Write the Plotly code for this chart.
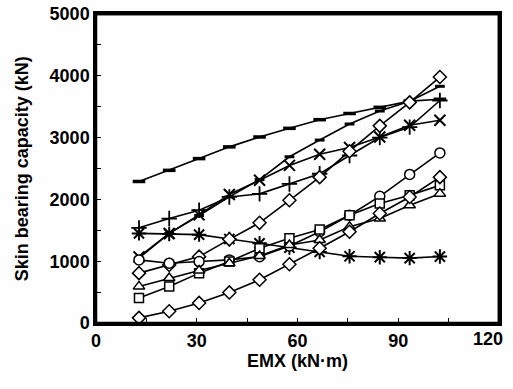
import plotly.graph_objects as go

emx = [12.8, 21.8, 30.7, 39.7, 48.7, 57.6, 66.6, 75.5, 84.5, 93.4, 102.4]

dash_top = [2290, 2470, 2660, 2850, 3010, 3150, 3290, 3390, 3490, 3590, 3620]
dash_steep = [1050, 1450, 1740, 2040, 2320, 2690, 2960, 3220, 3430, 3590, 3830]
x_series = [1070, 1450, 1750, 2080, 2310, 2550, 2730, 2840, 3010, 3200, 3280]
plus_series = [1540, 1690, 1825, 2040, 2090, 2250, 2415, 2710, 3000, 3170, 3600]
star_series = [1450, 1440, 1430, 1360, 1290, 1220, 1150, 1080, 1065, 1050, 1075]
diamond_up = [807, 940, 1074, 1354, 1621, 1986, 2360, 2780, 3190, 3570, 3980]
circle_series = [1021, 968, 994, 1021, 1074, 1246, 1476, 1744, 2050, 2404, 2752]
square_series = [405, 592, 807, 994, 1209, 1370, 1514, 1744, 1932, 2066, 2227]
triangle_series = [592, 727, 849, 968, 1085, 1262, 1342, 1556, 1691, 1905, 2093]
diamond_low = [83, 190, 325, 495, 699, 951, 1209, 1476, 1772, 2039, 2360]

x_range = [0, 120]
y_range = [0, 5000]
x_tickvals = [0, 15, 30, 45, 60, 75, 90, 105, 120]
x_ticklabels = ["0", "", "30", "", "60", "", "90", "", "120"]
y_tickvals = [0, 500, 1000, 1500, 2000, 2500, 3000, 3500, 4000, 4500, 5000]
y_ticklabels = ["0", "", "1000", "", "2000", "", "3000", "", "4000", "", "5000"]
x_title = "EMX (kN·m)"
y_title = "Skin bearing capacity (kN)"

series = [
    ("dash_top", dash_top, "line-ew", 9, 3.5),
    ("dash_steep", dash_steep, "line-ew", 7, 3),
    ("x", x_series, "x-thin", 11, 2),
    ("plus", plus_series, "cross-thin", 11, 1.8),
    ("star", star_series, "asterisk", 12, 2),
    ("diamond_up", diamond_up, "diamond", 10, 1.5),
    ("circle", circle_series, "circle", 10, 1.5),
    ("square", square_series, "square", 9, 1.5),
    ("triangle", triangle_series, "triangle-up", 10, 1.5),
    ("diamond_low", diamond_low, "diamond", 10, 1.5),
]

fig = go.Figure()
for name, ys, sym, size, lw in series:
    fig.add_trace(go.Scatter(
        x=emx, y=ys, mode="lines+markers", name=name,
        line=dict(color="black", width=1.6),
        marker=dict(symbol=sym, size=size, color="white",
                    line=dict(color="black", width=lw)),
        showlegend=False,
    ))

# closing top/right edges of the frame, drawn along the axis range limits
fig.add_trace(go.Scatter(
    x=[x_range[0], x_range[1], x_range[1]], y=[y_range[1], y_range[1], y_range[0]],
    mode="lines", line=dict(color="black", width=2.5), cliponaxis=False,
    hoverinfo="skip", showlegend=False,
))

last_label = x_ticklabels[-1]
shown_x_labels = [f"<b>{t}</b>" if t else "" for t in x_ticklabels[:-1]] + [""]

frame = dict(color="black", width=2.5)
font_family = "Liberation Sans, Arial, sans-serif"
fig.update_layout(
    width=513, height=389,
    margin=dict(l=96, r=14, t=14, b=66),
    paper_bgcolor="#fefefe", plot_bgcolor="#fefefe",
    font=dict(family=font_family, color="black", size=17),
    shapes=[
        dict(type="rect", xref="paper", yref="paper", x0=0, y0=0, x1=1, y1=1, line=frame, layer="above"),
    ],
    annotations=[
        dict(x=x_tickvals[-1], y=0, xref="x", yref="paper", text=f"<b>{last_label}</b>",
             showarrow=False, xanchor="center", yanchor="top", xshift=-11, yshift=-4,
             font=dict(size=18)),
        dict(x=-0.184, y=0.5, xref="paper", yref="paper", text=f"<b>{y_title}</b>",
             showarrow=False, textangle=-90, xanchor="center", yanchor="middle",
             font=dict(size=18)),
    ],
)
fig.update_xaxes(
    range=x_range, tickmode="array", tickvals=x_tickvals, ticktext=shown_x_labels,
    ticks="inside", ticklen=5, tickwidth=1.2, tickcolor="black",
    showline=True, linecolor="black", linewidth=2.5, mirror=True,
    showgrid=False, zeroline=False, automargin=False,
    tickfont=dict(size=18),
    title=dict(text=f"<b>{x_title}</b>", font=dict(size=18), standoff=0),
)
fig.update_yaxes(
    range=y_range, tickmode="array", tickvals=y_tickvals,
    ticktext=[f"<b>{t}</b>" if t else "" for t in y_ticklabels],
    ticks="inside", ticklen=5, tickwidth=1.2, tickcolor="black",
    showline=True, linecolor="black", linewidth=2.5, mirror=True,
    showgrid=False, zeroline=False, automargin=False,
    tickfont=dict(size=18),
)

fig.write_html(
    "out.html",
    config={"displayModeBar": False},
    post_script="document.body.style.margin='0';document.body.style.overflow='hidden';",
)
